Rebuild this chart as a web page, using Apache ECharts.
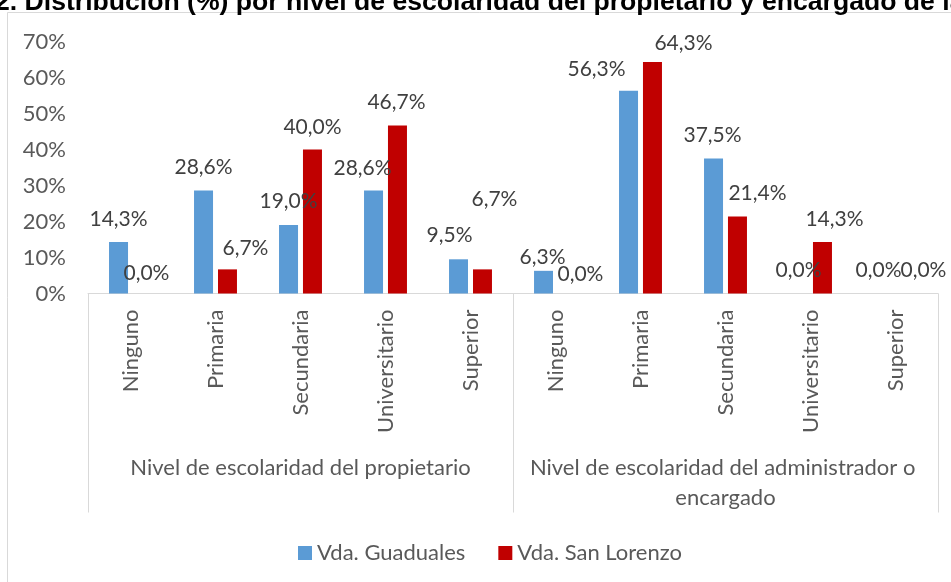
<!DOCTYPE html>
<html>
<head>
<meta charset="utf-8">
<script src="https://cdn.jsdelivr.net/npm/echarts@6/dist/echarts.min.js"></script>
<style>
  html, body { margin: 0; padding: 0; background: #ffffff; }
  #chart { width: 951px; height: 582px; }
</style>
</head>
<body>
<div id="chart"></div>
<script>
// Education level categories, repeated for owner and manager groups
const categories = [
  'Ninguno', 'Primaria', 'Secundaria', 'Universitario', 'Superior',
  'Ninguno', 'Primaria', 'Secundaria', 'Universitario', 'Superior'
];
const groups = [
  'Nivel de escolaridad del propietario',
  'Nivel de escolaridad del administrador o encargado'
];
const seriesNames = ['Vda. Guaduales', 'Vda. San Lorenzo'];
// Percentages per category
const guaduales = [14.3, 28.6, 19.0, 28.6, 9.5, 6.3, 56.3, 37.5, 0.0, 0.0];
const sanLorenzo = [0.0, 6.7, 40.0, 46.7, 6.7, 0.0, 64.3, 21.4, 14.3, 0.0];
const yTicks = { min: 0, max: 70, interval: 10 };

// Hand-placed label nudges [dx, dy] so neighbouring labels do not collide
const guadualesLabelShift = [[0, 0], [0, -1], [0, -1], [-11, 0], [-9, -2], [-1, 9], [-32, 1], [-1, -1], [0, -1], [-5, -1]];
const sanLorenzoLabelShift = [[4, 2], [18, 1], [0, 0], [-1, -1], [12, -48], [13, 3], [31, 4], [20, -1], [12, 0], [16, -1]];

const axisColor = '#595959';
const lineColor = '#d9d9d9';
const uiFont = 'Lato';

function pct(v) {
  return v.toFixed(1).replace('.', ',') + '%';
}

function barData(values, shifts) {
  return values.map((v, i) => ({
    value: v,
    label: { offset: shifts[i] }
  }));
}

const barLabel = {
  show: true,
  position: 'top',
  distance: 12,
  fontFamily: uiFont,
  fontSize: 21,
  color: '#404040',
  formatter: p => pct(p.value)
};

const chart = echarts.init(document.getElementById('chart'), null, { renderer: 'canvas' });

chart.setOption({
  animation: false,
  backgroundColor: '#ffffff',
  textStyle: { fontFamily: uiFont },
  grid: { left: 88, right: 13, top: 41.5, bottom: 288.5, containLabel: false },
  legend: {
    data: seriesNames,
    left: 298,
    top: 542,
    padding: 0,
    icon: 'rect',
    itemWidth: 14,
    itemHeight: 14,
    itemGap: 33,
    textStyle: { fontFamily: uiFont, fontSize: 22, color: axisColor }
  },
  xAxis: [
    {
      type: 'category',
      data: categories,
      position: 'bottom',
      axisLine: { lineStyle: { color: lineColor, width: 1 } },
      axisTick: { show: false },
      axisLabel: {
        interval: 0,
        rotate: 90,
        margin: 16,
        fontFamily: uiFont,
        fontSize: 22,
        color: axisColor
      }
    },
    {
      type: 'category',
      data: groups,
      position: 'bottom',
      axisLine: { show: false },
      axisTick: { show: true, interval: 0, length: 219, lineStyle: { color: lineColor } },
      axisLabel: {
        interval: 0,
        margin: 159,
        fontFamily: uiFont,
        fontSize: 22,
        lineHeight: 30,
        color: axisColor,
        width: 410,
        overflow: 'break'
      }
    }
  ],
  yAxis: {
    type: 'value',
    min: yTicks.min,
    max: yTicks.max,
    interval: yTicks.interval,
    splitLine: { show: false },
    axisLine: { show: false },
    axisTick: { show: false },
    axisLabel: {
      formatter: '{value}%',
      margin: 22,
      fontFamily: uiFont,
      fontSize: 22,
      color: axisColor
    }
  },
  series: [
    {
      name: seriesNames[0],
      type: 'bar',
      xAxisIndex: 0,
      barWidth: 19,
      barGap: '26%',
      itemStyle: { color: '#5B9BD5' },
      label: barLabel,
      data: barData(guaduales, guadualesLabelShift)
    },
    {
      name: seriesNames[1],
      type: 'bar',
      xAxisIndex: 0,
      barWidth: 19,
      barGap: '26%',
      itemStyle: { color: '#C00000' },
      label: barLabel,
      data: barData(sanLorenzo, sanLorenzoLabelShift)
    }
  ],
  graphic: [
    {
      type: 'rect',
      silent: true,
      shape: { x: 7.5, y: 12.5, width: 1200, height: 1000 },
      style: { fill: 'none', stroke: lineColor, lineWidth: 1 }
    },
    {
      type: 'text',
      silent: true,
      x: -5,
      y: 16,
      style: {
        text: '2. Distribución (%) por nivel de escolaridad del propietario y encargado de la finca',
        font: 'bold 26.6px "Liberation Sans", Arial, sans-serif',
        fill: '#000000',
        verticalAlign: 'bottom'
      }
    }
  ]
});
</script>
</body>
</html>
